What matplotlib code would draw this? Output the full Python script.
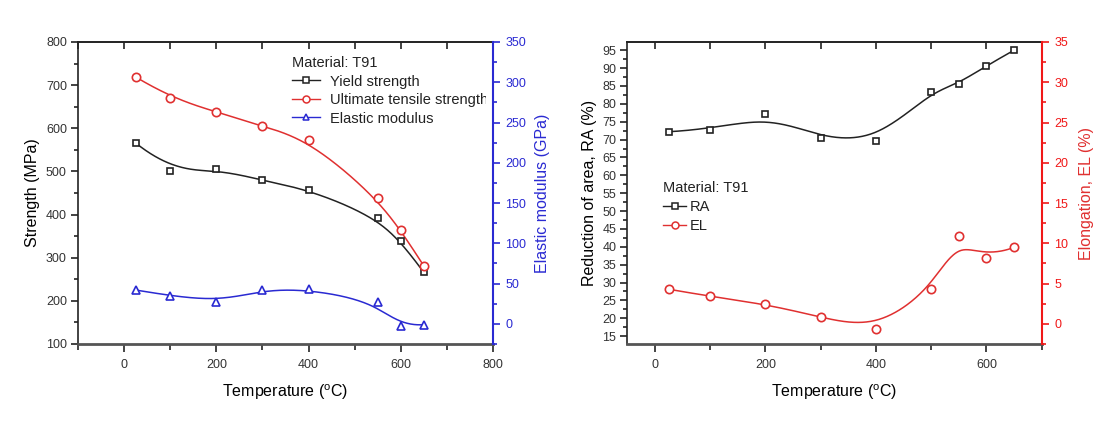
import numpy as np
import matplotlib
matplotlib.use('Agg')
import matplotlib.pyplot as plt
from matplotlib.lines import Line2D
from matplotlib.ticker import MultipleLocator
from matplotlib.transforms import Bbox, TransformedBbox

plt.rcParams['font.family'] = ['Liberation Sans', 'DejaVu Sans']
plt.rcParams['mathtext.fontset'] = 'custom'
plt.rcParams['mathtext.rm'] = 'Liberation Sans'
plt.rcParams['mathtext.it'] = 'Liberation Sans:italic'

# ---------------- data ----------------
temp_strength = [25, 100, 200, 300, 400, 550, 600, 650]
yield_strength = [566, 502, 506, 479, 458, 393, 338, 266]
uts = [719, 671, 638, 605, 573, 438, 364, 281]
elastic_modulus = [42, 35, 27, 42, 43, 27, -3, -1]

temp_ductility = [25, 100, 200, 300, 400, 500, 550, 600, 650]
reduction_area = [72.2, 72.8, 77.1, 70.4, 69.7, 83.4, 85.5, 90.7, 95.0]
elongation = [4.3, 3.4, 2.5, 0.8, -0.6, 4.3, 10.9, 8.2, 9.5]

legend_title = 'Material: T91'
left_labels = ['Yield strength', 'Ultimate tensile strength', 'Elastic modulus']
right_labels = ['RA', 'EL']

BLACK = '#222222'
RED = '#e03030'
BLUE = '#2a2ad2'
RED_AX = '#f01818'
TICKC = '#333333'


def bspline_curve(xs, ys, n_samples=400, k=3):
    """Clamped cubic B-spline using the data points as control points."""
    P = np.column_stack([xs, ys]).astype(float)
    n = len(P) - 1
    inner = np.arange(1, n - k + 1, dtype=float)
    knots = np.concatenate([np.zeros(k + 1), inner, np.full(k + 1, float(n - k + 1))])
    t = np.linspace(0, n - k + 1, n_samples)
    t[-1] -= 1e-9
    N = np.zeros((len(t), len(knots) - 1))
    for i in range(len(knots) - 1):
        N[:, i] = ((knots[i] <= t) & (t < knots[i + 1])).astype(float)
    for d in range(1, k + 1):
        Nn = np.zeros((len(t), len(knots) - 1 - d))
        for i in range(len(knots) - 1 - d):
            term = np.zeros(len(t))
            den1 = knots[i + d] - knots[i]
            den2 = knots[i + d + 1] - knots[i + 1]
            if den1 > 0:
                term += (t - knots[i]) / den1 * N[:, i]
            if den2 > 0:
                term += (knots[i + d + 1] - t) / den2 * N[:, i + 1]
            Nn[:, i] = term
        N = Nn
    C = N @ P
    return C[:, 0], C[:, 1]


def series(ax, x, y, color, marker, ms):
    cx, cy = bspline_curve(x, y)
    ax.plot(cx, cy, color=color, lw=1.1, zorder=3)
    ax.plot(x, y, ls='none', marker=marker, ms=ms, mfc='white', mec=color,
            mew=1.2, zorder=4)


W, H = 1116, 429
fig = plt.figure(figsize=(W / 100, H / 100), dpi=100)


def style_common(ax, ax2, right_color):
    for s in ['top', 'left']:
        ax.spines[s].set_color(BLACK)
        ax.spines[s].set_linewidth(1.2)
    ax.spines['bottom'].set_color('#555555')
    ax.spines['bottom'].set_linewidth(2.0)
    ax.spines['right'].set_visible(False)
    for s in ['top', 'left', 'bottom']:
        ax2.spines[s].set_visible(False)
    ax2.spines['right'].set_color(right_color)
    ax2.spines['right'].set_linewidth(1.5)
    ax.tick_params(axis='x', which='major', direction='out', length=6, width=1.4,
                   color='#444444', labelsize=9, labelcolor=TICKC, pad=5)
    ax.tick_params(axis='x', which='minor', direction='out', length=4, width=1.4,
                   color='#444444')
    ax.tick_params(axis='y', which='major', direction='out', length=5, width=1.2,
                   color=BLACK, labelsize=9, labelcolor=TICKC, pad=3)
    ax.tick_params(axis='y', which='minor', direction='out', length=3, width=1.2,
                   color=BLACK)
    ax2.tick_params(axis='y', which='major', direction='out', length=5, width=1.2,
                    color=right_color, labelsize=9, labelcolor=right_color, pad=4)
    ax2.tick_params(axis='y', which='minor', direction='out', length=3, width=1.2,
                    color=right_color)
    sec = ax.secondary_xaxis('top')
    sec.xaxis.set_major_locator(MultipleLocator(100))
    sec.tick_params(axis='x', which='major', direction='in', length=5, width=1.2,
                    color=BLACK, labeltop=False)
    sec.spines['top'].set_color(BLACK)
    sec.spines['top'].set_linewidth(1.2)


# ---------------- left chart ----------------
ax1 = fig.add_axes([78 / W, (H - 344) / H, 415 / W, 302 / H])
ax1b = ax1.twinx()
ax1.set_xlim(-100, 800)
ax1.set_ylim(100, 800)
ax1b.set_ylim(-25, 350)
ax1.xaxis.set_major_locator(MultipleLocator(200))
ax1.xaxis.set_minor_locator(MultipleLocator(100))
ax1.yaxis.set_major_locator(MultipleLocator(100))
ax1.yaxis.set_minor_locator(MultipleLocator(50))
ax1b.yaxis.set_major_locator(MultipleLocator(50))
ax1b.yaxis.set_minor_locator(MultipleLocator(25))
style_common(ax1, ax1b, BLUE)

series(ax1, temp_strength, yield_strength, BLACK, 's', 5)
series(ax1, temp_strength, uts, RED, 'o', 6)
series(ax1b, temp_strength, elastic_modulus, BLUE, '^', 6)

ax1.set_xlabel(r'Temperature ($^{\mathrm{o}}$C)', fontsize=11.5, labelpad=8)
ax1.set_ylabel('Strength (MPa)', fontsize=11.5, labelpad=4)
ax1b.set_ylabel('Elastic modulus (GPa)', fontsize=11.5, color=BLUE, labelpad=6)

h1 = [Line2D([], [], color=BLACK, lw=1.0, marker='s', ms=4.5, mfc='white', mec=BLACK, mew=1.1),
      Line2D([], [], color=RED, lw=1.0, marker='o', ms=5, mfc='white', mec=RED, mew=1.1),
      Line2D([], [], color=BLUE, lw=1.0, marker='^', ms=5, mfc='white', mec=BLUE, mew=1.1)]
leg1 = ax1b.legend(h1, left_labels, title=legend_title, loc='upper left',
                   bbox_to_anchor=(292 / W, (H - 56) / H), bbox_transform=fig.transFigure,
                   frameon=False, borderpad=0, borderaxespad=0, fontsize=10.5,
                   title_fontsize=10.5, alignment='left', handlelength=1.9,
                   handletextpad=0.7, labelspacing=0.31)
clip_left = TransformedBbox(Bbox.from_extents(0, 0, 485.5 / W, 1), fig.transFigure)
for t in leg1.get_texts():
    t.set_color('#222222')
    t.set_clip_box(clip_left)
    t.set_clip_on(True)
leg1.get_title().set_color('#222222')

# ---------------- right chart ----------------
ax2 = fig.add_axes([627.3 / W, (H - 344) / H, 414.4 / W, 302 / H])
ax2b = ax2.twinx()
ax2.set_xlim(-50, 700)
ax2.set_ylim(12.8, 97.3)
ax2b.set_ylim(-2.5, 35)
ax2.xaxis.set_major_locator(MultipleLocator(200))
ax2.xaxis.set_minor_locator(MultipleLocator(100))
ax2.yaxis.set_major_locator(MultipleLocator(5))
ax2.yaxis.set_minor_locator(MultipleLocator(2.5))
ax2b.yaxis.set_major_locator(MultipleLocator(5))
ax2b.yaxis.set_minor_locator(MultipleLocator(2.5))
style_common(ax2, ax2b, RED_AX)

series(ax2, temp_ductility, reduction_area, BLACK, 's', 5)
series(ax2b, temp_ductility, elongation, RED, 'o', 6)

ax2.set_xlabel(r'Temperature ($^{\mathrm{o}}$C)', fontsize=11.5, labelpad=8)
ax2.set_ylabel('Reduction of area, RA (%)', fontsize=11.5, labelpad=4)
ax2b.set_ylabel('Elongation, EL (%)', fontsize=11.5, color=RED, labelpad=8)

h2 = [Line2D([], [], color=BLACK, lw=1.0, marker='s', ms=4.5, mfc='white', mec=BLACK, mew=1.1),
      Line2D([], [], color=RED, lw=1.0, marker='o', ms=5, mfc='white', mec=RED, mew=1.1)]
leg2 = ax2b.legend(h2, right_labels, title=legend_title, loc='upper left',
                   bbox_to_anchor=(663 / W, (H - 181) / H), bbox_transform=fig.transFigure,
                   frameon=False, borderpad=0, borderaxespad=0, fontsize=10.5,
                   title_fontsize=10.5, alignment='left', handlelength=1.6,
                   handletextpad=0.25, labelspacing=0.33)
for t in leg2.get_texts():
    t.set_color('#222222')
leg2.get_title().set_color('#222222')

fig.savefig('out.png', dpi=100, facecolor='white')
